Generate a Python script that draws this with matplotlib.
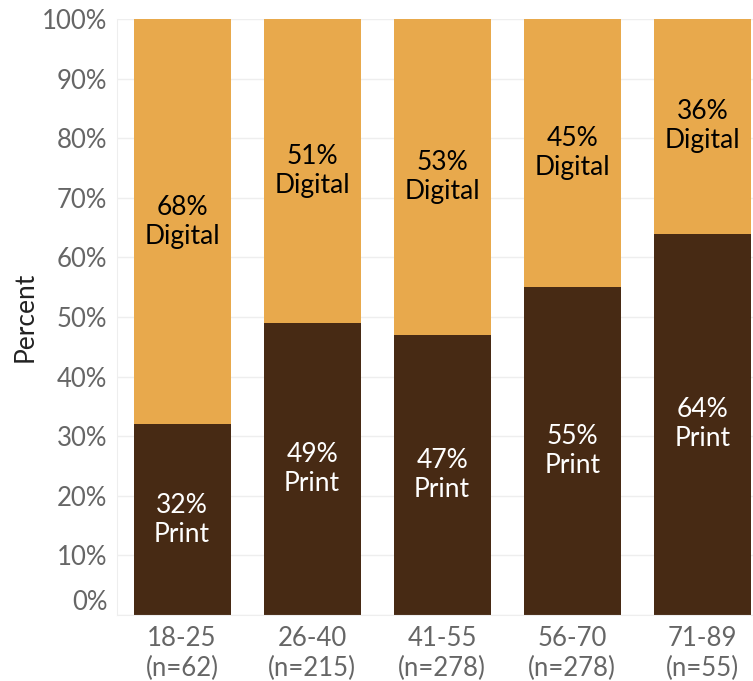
import matplotlib.pyplot as plt
from matplotlib.transforms import ScaledTranslation

groups = ['18-25\n(n=62)', '26-40\n(n=215)', '41-55\n(n=278)', '56-70\n(n=278)', '71-89\n(n=55)']
print_pct = [32, 49, 47, 55, 64]
digital_pct = [68, 51, 53, 45, 36]

brown = '#472a14'
orange = '#e8a94c'
grey = '#666666'

plt.rcParams['font.family'] = ['Lato', 'DejaVu Sans']

fig = plt.figure(figsize=(7.53, 6.81), dpi=100)
ax = fig.add_axes([117 / 753, 66 / 681, 1 - 117 / 753, 596 / 681])

x = range(len(groups))
ax.bar(x, print_pct, width=0.746, color=brown, zorder=2)
ax.bar(x, digital_pct, width=0.746, bottom=print_pct, color=orange, zorder=2)

# labels centred in each segment
for i in x:
    ax.text(i, print_pct[i] / 2, f'{print_pct[i]}%\nPrint', ha='center', va='center',
            color='white', fontsize=19, linespacing=1.2, zorder=3)
    ax.text(i, print_pct[i] + digital_pct[i] / 2, f'{digital_pct[i]}%\nDigital', ha='center',
            va='center', color='black', fontsize=19, linespacing=1.2, zorder=3)

ax.set_xlim(-0.5, 4.39)
ax.set_ylim(0, 100)
ax.set_yticks(range(0, 101, 10))
ax.set_yticklabels([f'{v}%' for v in range(0, 101, 10)])
ax.set_xticks(list(x))
ax.set_xticklabels(groups)
ax.tick_params(axis='both', length=0, labelsize=18.5, labelcolor=grey)
ax.tick_params(axis='y', pad=7)
ax.tick_params(axis='x', pad=8)
for lbl in ax.get_xticklabels():
    lbl.set_linespacing(1.25)

# lift the 0% label off the baseline
zero = ax.get_yticklabels()[0]
zero.set_transform(zero.get_transform() + ScaledTranslation(0, 15 / 100, fig.dpi_scale_trans))

ax.set_ylabel('Percent', fontsize=19, color='#222222', labelpad=3)
ax.grid(axis='y', color='#eeeeee', linewidth=1, zorder=0)
for side in ['top', 'right']:
    ax.spines[side].set_visible(False)
ax.spines['left'].set_color('#eeeeee')
ax.spines['bottom'].set_color('#eeeeee')

plt.savefig('out.png', dpi=100)
